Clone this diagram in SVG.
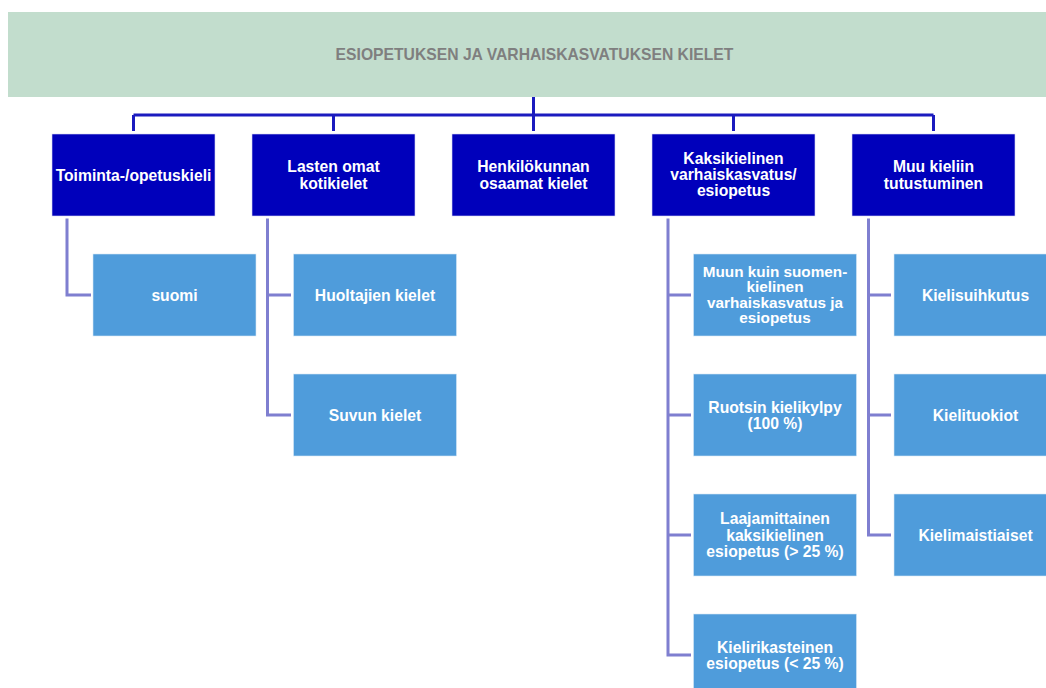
<svg xmlns="http://www.w3.org/2000/svg" width="1046" height="688" viewBox="0 0 1046 688">
<style>
text{font-family:"Liberation Sans",Arial,sans-serif;font-weight:bold;font-size:15.7px;text-anchor:middle;fill:#ffffff}
.sm{font-size:15.3px}
.hdr{fill:#c2ddcd}
.htx{fill:#7f7f7f}
.p{fill:#0000bb;stroke:#d8d8f0;stroke-width:0.6}
.c{fill:#4f9cdb;stroke:#d8e8f5;stroke-width:0.6}
.top{stroke:#1b1bbf;stroke-width:3;fill:none}
.sub{stroke:#7f7fd0;stroke-width:3;fill:none}
</style>
<rect width="1046" height="688" fill="#ffffff"/>
<g id="connectors">
<path class="top" d="M533.5 97V115M133.5 115H933.5M133.5 115V131M333.5 115V131M533.5 115V131M733.5 115V131M933.5 115V131"/>
<path class="sub" d="M67 218.5V295H91"/>
<path class="sub" d="M267.5 218.5V415H291M267.5 295H291"/>
<path class="sub" d="M668 218.5V655H691M668 295H691M668 415H691M668 535H691"/>
<path class="sub" d="M868.5 218.5V535H891M868.5 295H891M868.5 415H891"/>
</g>
<g id="header"><rect class="hdr" x="8" y="12" width="1046" height="85"/><text class="htx" x="534.5" y="60.3">ESIOPETUKSEN JA VARHAISKASVATUKSEN KIELET</text></g>
<g id="toiminta"><rect class="p" x="52" y="134" width="163" height="82"/><text x="133.5" y="180.5">Toiminta-/opetuskieli</text></g>
<g id="lasten"><rect class="p" x="252" y="134" width="163" height="82"/><text x="333.5" y="172.4">Lasten omat</text><text x="333.5" y="188.7">kotikielet</text></g>
<g id="henkilokunta"><rect class="p" x="452" y="134" width="163" height="82"/><text x="533.5" y="172.4">Henkilökunnan</text><text x="533.5" y="188.7">osaamat kielet</text></g>
<g id="kaksikielinen"><rect class="p" x="652" y="134" width="163" height="82"/><text x="733.5" y="164.3">Kaksikielinen</text><text x="733.5" y="180.3">varhaiskasvatus/</text><text x="733.5" y="196.3">esiopetus</text></g>
<g id="muu"><rect class="p" x="852" y="134" width="163" height="82"/><text x="933.5" y="172.4">Muu kieliin</text><text x="933.5" y="188.7">tutustuminen</text></g>
<g id="suomi"><rect class="c" x="93" y="254" width="163" height="82"/><text x="174.5" y="300.5">suomi</text></g>
<g id="huoltajien"><rect class="c" x="293.5" y="254" width="163" height="82"/><text x="375" y="300.5">Huoltajien kielet</text></g>
<g id="suvun"><rect class="c" x="293.5" y="374" width="163" height="82"/><text x="375" y="420.5">Suvun kielet</text></g>
<g id="muunkuin"><rect class="c" x="693.5" y="254" width="163" height="82"/><text class="sm" x="775" y="277">Muun kuin suomen-</text><text class="sm" x="775" y="292.3">kielinen</text><text class="sm" x="775" y="307.6">varhaiskasvatus ja</text><text class="sm" x="775" y="322.9">esiopetus</text></g>
<g id="ruotsin"><rect class="c" x="693.5" y="374" width="163" height="82"/><text x="775" y="412.5">Ruotsin kielikylpy</text><text x="775" y="428.8">(100 %)</text></g>
<g id="laajamittainen"><rect class="c" x="693.5" y="494" width="163" height="82"/><text x="775" y="524.2">Laajamittainen</text><text x="775" y="540.6">kaksikielinen</text><text x="775" y="557">esiopetus (&gt; 25 %)</text></g>
<g id="kielirikasteinen"><rect class="c" x="693.5" y="614" width="163" height="82"/><text x="775" y="652.6">Kielirikasteinen</text><text x="775" y="668.9">esiopetus (&lt; 25 %)</text></g>
<g id="kielisuihkutus"><rect class="c" x="894" y="254" width="163" height="82"/><text x="975.5" y="300.5">Kielisuihkutus</text></g>
<g id="kielituokiot"><rect class="c" x="894" y="374" width="163" height="82"/><text x="975.5" y="420.5">Kielituokiot</text></g>
<g id="kielimaistiaiset"><rect class="c" x="894" y="494" width="163" height="82"/><text x="975.5" y="540.5">Kielimaistiaiset</text></g>
</svg>
